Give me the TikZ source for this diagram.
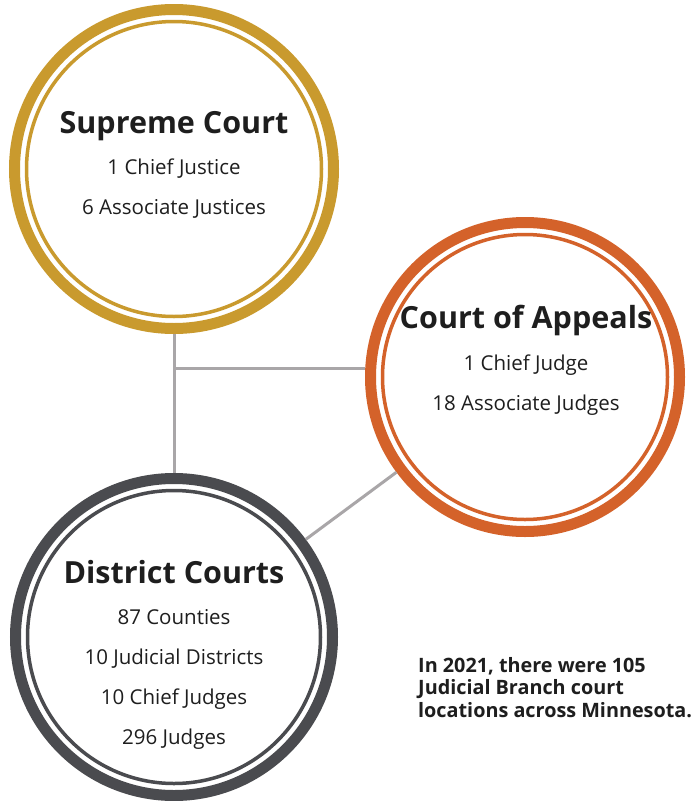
\documentclass[tikz,border=0pt]{standalone}
\usepackage{fontspec}
\setmainfont{Open Sans}
\definecolor{supremegold}{RGB}{201,154,46}
\definecolor{appealsorange}{RGB}{212,98,42}
\definecolor{districtgray}{RGB}{74,75,79}
\definecolor{linkgray}{RGB}{169,166,168}
\definecolor{inkblack}{RGB}{30,30,30}

\tikzset{court/.style = {shape = circle,
                         draw,
                         line width = 11pt,
                         minimum size = 317pt,
                         inner sep = 0pt},
         innerring/.style = {line width = 3.5pt},
         title/.style = {font=\fontsize{30.5}{36}\selectfont\bfseries,
                         text=inkblack,
                         anchor=base,
                         inner sep=0pt},
         members/.style = {font=\fontsize{20.5}{40}\selectfont,
                           text=inkblack,
                           align=center,
                           anchor=north,
                           inner sep=0pt},
         note/.style = {font=\fontsize{19.8}{22.5}\selectfont\bfseries,
                        text=inkblack,
                        align=left,
                        anchor=north west,
                        inner sep=0pt},
         link/.style = {draw=linkgray, line width=3pt}}

\begin{document}
\begin{tikzpicture}[x=1pt,y=-1pt]
	\useasboundingbox[fill=white] (0,0) rectangle (691,801);
	% the three courts
	\node[court, draw=supremegold, minimum size=319pt] (sc) at (174,169) {};
	\node[court, draw=appealsorange, minimum size=309pt] (ca) at (525,377) {};
	\node[court, draw=districtgray, minimum size=317pt] (dc) at (174,637) {};
	\draw[innerring, supremegold] (sc.center) circle (147.5);
	\draw[innerring, appealsorange] (ca.center) circle (142.5);
	\draw[innerring, districtgray] (dc.center) circle (146.5);
	% connectors
	\coordinate (junc) at (174,368);
	\draw[link] (sc) -- (dc);
	\draw[link] (junc) -- (junc -| ca.west);
	\draw[link] (dc) -- (ca);
	% labels
	\node[title] (sctitle) at (174,133) {Supreme Court};
	\node[members] (scmembers) at (174,158.5) {1 Chief Justice\\6 Associate Justices};
	\node[title] (catitle) at (526,328) {Court of Appeals};
	\node[members] (camembers) at (526,354.5) {1 Chief Judge\\18 Associate Judges};
	\node[title] (dctitle) at (174,583) {District Courts};
	\node[members] (dcmembers) at (174,609.5) {87 Counties\\10 Judicial Districts\\10 Chief Judges\\296 Judges};
	\node[note] (locations) at (418,657) {In 2021, there were 105\\Judicial Branch court\\locations across Minnesota.};
\end{tikzpicture}
\end{document}
